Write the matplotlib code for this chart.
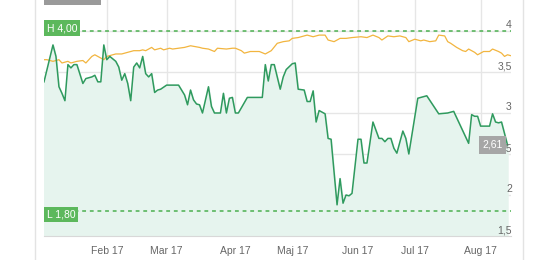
import matplotlib.pyplot as plt
from matplotlib.lines import Line2D
from matplotlib.patches import Rectangle
from matplotlib.transforms import blended_transform_factory, offset_copy

plt.rcParams['font.family'] = ['Liberation Sans', 'DejaVu Sans']

# kurs (handelsdage siden 2. jan 2017)
kurs_dag = [0, 3, 4, 5, 6, 7, 8, 9, 10, 11, 13, 14, 16, 17, 18, 19, 20, 21, 22, 24,
            25, 26, 27, 28, 29, 30, 31, 32, 33, 34, 35, 36, 37, 38, 39, 41, 42, 45, 47, 48,
            49, 50, 51, 52, 53, 55, 56, 57, 59, 60, 61, 62, 63, 64, 65, 68, 73, 74, 75, 76,
            77, 79, 80, 81, 83, 84, 85, 87, 88, 89, 90, 91, 92, 94, 95, 96, 98, 99, 100, 101,
            102, 103, 105, 106, 107, 108, 110, 111, 112, 113, 114, 115, 116, 117, 118, 120, 121, 122, 125, 126,
            128, 132, 135, 137, 142, 143, 144, 145, 146, 149, 150, 151, 152, 153, 155]
kurs = [3.38, 3.83, 3.69, 3.32, 3.24, 3.15, 3.59, 3.55, 3.59, 3.59, 3.36, 3.42, 3.44, 3.46, 3.38, 3.38, 3.83, 3.65, 3.69, 3.63,
        3.56, 3.40, 3.48, 3.36, 3.15, 3.56, 3.61, 3.55, 3.69, 3.48, 3.44, 3.48, 3.25, 3.28, 3.29, 3.34, 3.34, 3.34, 3.22, 3.10,
        3.28, 3.16, 3.11, 3.10, 3.00, 3.32, 3.08, 3.00, 3.00, 3.24, 3.00, 3.18, 3.19, 3.00, 3.00, 3.19, 3.19, 3.59, 3.39, 3.59,
        3.59, 3.29, 3.44, 3.53, 3.60, 3.61, 3.29, 3.28, 3.14, 3.14, 3.27, 2.89, 3.03, 2.99, 2.69, 2.68, 1.88, 2.20, 1.90, 2.00,
        1.99, 2.02, 2.68, 2.68, 2.39, 2.39, 2.89, 2.79, 2.69, 2.69, 2.65, 2.69, 2.69, 2.57, 2.51, 2.78, 2.69, 2.50, 3.18, 3.19,
        3.21, 2.99, 3.00, 3.02, 2.63, 2.98, 2.96, 2.96, 2.84, 2.84, 2.99, 2.89, 2.88, 2.89, 2.61]

# sammenligning (orange)
sml_dag = [0, 1, 3, 5, 6, 8, 9, 11, 13, 14, 15, 16, 17, 19, 20, 21, 23, 24, 26, 28,
           30, 32, 33, 34, 36, 37, 39, 40, 42, 43, 45, 47, 49, 52, 53, 55, 57, 58, 61, 63,
           64, 66, 67, 69, 72, 74, 76, 78, 80, 82, 83, 85, 88, 90, 92, 94, 95, 97, 99, 101,
           103, 106, 108, 110, 112, 113, 115, 117, 119, 121, 122, 124, 126, 127, 129, 131, 132, 134, 135, 136,
           138, 140, 141, 142, 144, 145, 147, 149, 150, 152, 153, 154, 155, 156]
sml = [3.65, 3.65, 3.63, 3.65, 3.61, 3.63, 3.61, 3.63, 3.64, 3.61, 3.65, 3.69, 3.71, 3.67, 3.65, 3.69, 3.71, 3.72, 3.72, 3.74,
       3.76, 3.76, 3.77, 3.76, 3.80, 3.77, 3.79, 3.77, 3.79, 3.78, 3.79, 3.80, 3.82, 3.80, 3.79, 3.78, 3.75, 3.79, 3.78, 3.79,
       3.79, 3.76, 3.73, 3.75, 3.75, 3.72, 3.76, 3.85, 3.87, 3.88, 3.91, 3.92, 3.95, 3.93, 3.95, 3.95, 3.89, 3.87, 3.91, 3.91,
       3.92, 3.93, 3.92, 3.95, 3.92, 3.89, 3.94, 3.93, 3.94, 3.92, 3.87, 3.90, 3.88, 3.89, 3.87, 3.88, 3.95, 3.94, 3.87, 3.85,
       3.80, 3.76, 3.75, 3.78, 3.74, 3.71, 3.75, 3.75, 3.78, 3.75, 3.73, 3.69, 3.71, 3.70]

maaned_pos = [21, 41, 64, 83, 105, 124, 146]
maaned_txt = ['Feb 17', 'Mar 17', 'Apr 17', 'Maj 17', 'Jun 17', 'Jul 17', 'Aug 17']
y_ticks = [1.5, 2, 2.5, 3, 3.5, 4]
y_txt = ['1,5', '2', '2,5', '3', '3,5', '4']
hoej, lav, sidste = 4.00, 1.80, 2.61

W, H = 534, 260
fig = plt.figure(figsize=(W / 100, H / 100), dpi=100)
ax = fig.add_axes([44 / W, 24 / H, (510.5 - 44) / W, 236 / H])
ax.set_xlim(0, 156)
ax.set_ylim(1.5, 4 + 31 / 82)

# gitter
for p in maaned_pos:
    ax.axvline(p, color='#e6e6e6', lw=1, zorder=0)
for v in y_ticks[1:]:
    ax.axhline(v, color='#e6e6e6', lw=1, zorder=0)

ax.fill_between(kurs_dag, kurs, 1.5, color='#e6f4ee', zorder=1)
ax.plot(sml_dag, sml, color='#f2b53f', lw=0.9, zorder=2)
ax.plot(kurs_dag, kurs, color='#2f9a5e', lw=1.1, zorder=3)

# høj / lav
ax.axhline(hoej, color='#4cb050', lw=1.1, ls=(0, (2.5, 2.5)), zorder=4)
ax.axhline(lav, color='#4cb050', lw=1.1, ls=(0, (2.5, 2.5)), zorder=4)
bt = blended_transform_factory(ax.transAxes, ax.transData)
ax.text(0, hoej, 'H 4,00', transform=offset_copy(bt, fig=fig, x=2, y=-1.5, units='points'),
        ha='left', va='bottom', color='white', fontsize=7.5, zorder=5,
        bbox=dict(boxstyle='square,pad=0.25', fc='#5cb85c', ec='none'))
ax.text(0, lav, 'L 1,80', transform=offset_copy(bt, fig=fig, x=2, y=1.5, units='points'),
        ha='left', va='top', color='white', fontsize=7.5, zorder=5,
        bbox=dict(boxstyle='square,pad=0.25', fc='#5cb85c', ec='none'))

# y-etiketter inde i plottet
for v, t in zip(y_ticks, y_txt):
    ax.text(1.0, v, t, transform=offset_copy(bt, fig=fig, x=1, y=0.5, units='points'),
            ha='right', va='bottom', color='#666666', fontsize=7.5, zorder=5)

ax.text(0.995, sidste, '2,61', transform=offset_copy(bt, fig=fig, x=-4, y=0, units='points'),
        ha='right', va='center', color='white', fontsize=7.5, zorder=6,
        bbox=dict(boxstyle='square,pad=0.35', fc='#a6a6a6', ec='none'))

ax.set_xticks(maaned_pos, maaned_txt)
ax.set_yticks([])
ax.tick_params(axis='x', length=0, pad=7, labelsize=7.5, labelcolor='#666666')
for s in ['top', 'left', 'right']:
    ax.spines[s].set_visible(False)
ax.spines['bottom'].set_color('#d8d8d8')

# ramme og afskåret boks i toppen
fig.add_artist(Line2D([35 / W, 35 / W], [0, 1], color='#e3e3e3', lw=1))
fig.add_artist(Line2D([523 / W, 523 / W], [0, 1], color='#e3e3e3', lw=1))
fig.add_artist(Rectangle((44 / W, 1 - 5 / H), 57 / W, 5 / H, color='#9a9a9a', lw=0))

fig.savefig('out.png', dpi=100)
